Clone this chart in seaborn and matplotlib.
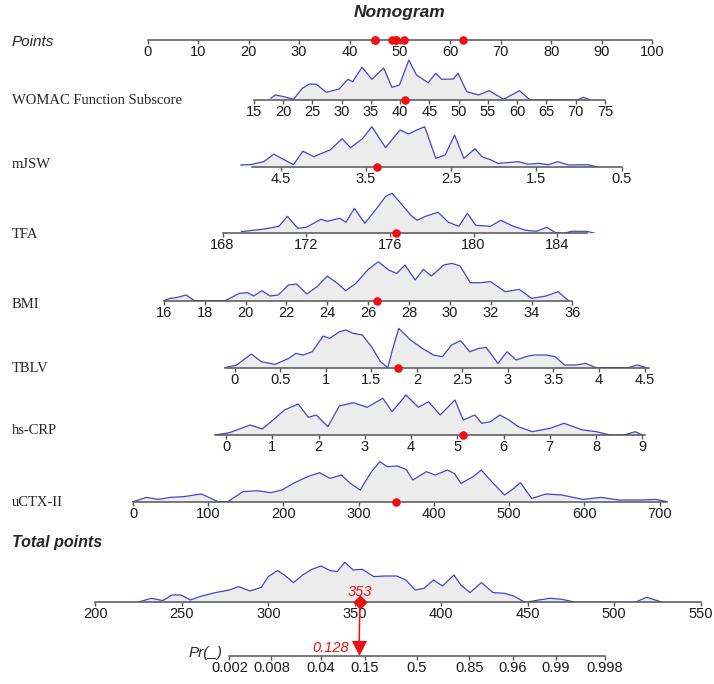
import matplotlib
matplotlib.use("Agg")
import matplotlib.pyplot as plt
from matplotlib.patches import ConnectionPatch
from matplotlib.ticker import NullLocator
import seaborn as sns

sns.set_style("white")
plt.rcParams['font.family'] = ['Liberation Sans', 'DejaVu Sans']

# ---------------- data ----------------
points_ticks = list(range(0, 101, 10))
# points of the selected patient for each predictor (red dots on the Points scale)
points_sel = [50.7, 45.0, 49.2, 45.0, 49.2, 62.5, 48.5]

womac_ticks = list(range(15, 76, 5))
womac_x = [17.9, 18.7, 20.2, 21.8, 23.3, 24.5, 25.7, 27.4, 29.6, 31.1, 31.9, 33.5, 35.2, 37.2,
           38.6, 39.9, 41.5, 42.8, 44.8, 46.1, 47.1, 49.1, 49.9, 51.4, 53.4, 55.2, 57.7, 60.4,
           62.2, 70.3, 71.3, 72.5]
womac_d = [1.7, 5, 3.3, 0.7, 11.7, 16, 15.7, 7.7, 11, 20.7, 18.3, 32.7, 20.7, 32,
           12.7, 15, 40, 25, 17.3, 26.7, 20.7, 21, 26.7, 8.3, 5, 9.3, 0.7, 9.3,
           0, 0, 2.7, 0]
womac_sel = 40.9

mjsw_ticks = [4.5, 3.5, 2.5, 1.5, 0.5]
mjsw_x = [4.97, 4.84, 4.70, 4.58, 4.46, 4.35, 4.24, 4.11, 4.03, 3.92, 3.78, 3.68, 3.54, 3.43,
          3.27, 3.10, 3.00, 2.92, 2.81, 2.68, 2.57, 2.46, 2.35, 2.22, 2.14, 2.03, 1.95, 1.71,
          1.60, 1.47, 1.36, 1.25, 1.12, 0.90, 0.80]
mjsw_d = [1.7, 2.3, 5, 12.5, 7, 2, 15.5, 10, 13, 16.7, 28, 19, 28, 40,
          19, 36.7, 32.7, 36, 40, 8.3, 11.7, 31.7, 8.3, 18, 10, 6.7, 3.3, 5,
          2.5, 3.3, 2, 5, 1.7, 2, 0]
mjsw_sel = 3.37

tfa_ticks = [168, 172, 176, 180, 184]
tfa_x = [168.9, 169.9, 170.7, 171.1, 171.6, 172.0, 172.7, 173.0, 173.6, 173.9, 174.3, 174.8,
         175.3, 175.8, 176.1, 176.4, 177.0, 177.3, 177.7, 178.3, 178.8, 179.3, 179.7, 180.1,
         180.8, 181.3, 181.9, 182.5, 183.0, 183.5, 183.9, 184.3, 184.7, 185.4, 185.8]
tfa_d = [1.7, 4, 7, 17, 5, 6, 14, 12, 15, 11, 25, 10,
         23, 37, 40, 33, 18, 13, 17, 21, 11, 7, 20, 8,
         7, 13, 7, 3, 2, 6, 0.7, 0, 2, 2, 0]
tfa_sel = 176.3

bmi_ticks = list(range(16, 37, 2))
bmi_x = [16.0, 16.3, 16.6, 17.1, 17.5, 19.0, 19.7, 20.1, 20.4, 20.8, 21.2, 21.6, 22.1, 22.5,
         23.0, 23.5, 24.0, 24.5, 24.9, 25.4, 26.0, 26.5, 27.0, 27.4, 27.8, 28.3, 28.7, 29.1,
         29.7, 30.1, 30.5, 31.0, 31.5, 32.0, 32.7, 33.4, 34.0, 34.7, 35.3, 35.8]
bmi_d = [0, 2.3, 3, 5.7, 0, 0, 7.3, 8, 4.7, 10, 4.7, 5.7, 15.7, 16.7,
         6.7, 14, 24.7, 17.3, 10, 17.3, 31.3, 39, 30.7, 27.3, 35.7, 20.7, 31.3, 24.7,
         35.7, 37.3, 34.7, 18, 18, 19, 9, 11.3, 2.3, 4.7, 9, 0]
bmi_sel = 26.45

tblv_ticks = [0, 0.5, 1, 1.5, 2, 2.5, 3, 3.5, 4, 4.5]
tblv_labels = ['0', '0.5', '1', '1.5', '2', '2.5', '3', '3.5', '4', '4.5']
tblv_x = [-0.11, 0.02, 0.18, 0.29, 0.44, 0.59, 0.67, 0.75, 0.85, 0.97, 1.04, 1.15, 1.22, 1.30,
          1.40, 1.50, 1.60, 1.68, 1.73, 1.80, 1.93, 2.06, 2.18, 2.28, 2.38, 2.48, 2.58, 2.68,
          2.76, 2.89, 2.99, 3.09, 3.22, 3.29, 3.42, 3.52, 3.62, 3.75, 3.85, 3.97, 4.32, 4.42,
          4.52]
tblv_d = [0, 2.7, 13.7, 6, 3.3, 9.3, 14.3, 12.7, 16, 31.7, 29.3, 36, 37.7, 34.3,
          32.7, 21, 6, 0, 17.7, 39.3, 27.7, 19.3, 12.7, 11, 22.7, 27, 16, 19.3,
          20.3, 4.3, 16, 7.7, 11.7, 12.7, 12.7, 11, 2.7, 2.7, 4.3, 0, 0, 2.7,
          0]
tblv_sel = 1.79

crp_ticks = list(range(0, 10))
crp_x = [-0.23, 0.07, 0.52, 0.78, 1.06, 1.26, 1.56, 1.78, 1.95, 2.20, 2.45, 2.75, 3.05, 3.39,
         3.59, 3.89, 4.16, 4.38, 4.63, 4.95, 5.13, 5.38, 5.53, 5.72, 5.92, 6.12, 6.32, 6.62,
         7.01, 7.31, 7.71, 8.01, 8.30, 8.60, 8.85, 9.00]
crp_d = [0, 2.3, 10, 6, 16.7, 25, 31, 17.7, 20, 8.3, 29, 32.3, 27.7, 36.7,
         23.3, 40, 27.7, 33.3, 20, 35, 15, 20, 11.7, 13.3, 20, 15, 8.3, 3.3,
         6.7, 11.7, 5, 3.3, 0, 0, 3.3, 0]
crp_sel = 5.13

ctx_ticks = list(range(0, 701, 100))
ctx_x = [0, 18, 34, 49, 67, 91, 113, 126, 146, 165, 183, 198, 213, 232, 248, 262, 277, 289,
         302, 317, 328, 338, 351, 363, 372, 390, 402, 418, 427, 436, 452, 463, 479, 494, 506,
         515, 530, 549, 570, 598, 622, 646, 677, 695, 710]
ctx_d = [0, 4.3, 2.3, 4.3, 5, 7.7, 0, 0, 10, 11, 9, 11.7, 18.3, 25, 29, 23.3, 26.7, 18.3,
         11.7, 30, 40, 35, 35.7, 32.3, 21.7, 30, 26.7, 31.7, 28.3, 18.3, 25, 31.7, 18.3, 6.7, 13.3,
         19, 3.3, 7.7, 6.7, 2.3, 4.3, 1.7, 1.7, 2.3, 0]
ctx_sel = 349

total_ticks = list(range(200, 551, 50))
total_x = [224.4, 232.4, 239.0, 244.3, 249.6, 254.9, 261.5, 269.5, 277.5, 282.8, 289.4, 296.0,
           300.0, 305.3, 309.3, 314.6, 319.9, 325.2, 330.5, 335.8, 339.8, 344.3, 349.1, 354.4,
           361.0, 367.6, 374.3, 379.6, 384.9, 390.2, 395.5, 400.8, 407.4, 411.4, 416.7, 423.3,
           430.0, 436.6, 441.9, 448.5, 456.5, 463.1, 469.8, 477.7, 512.2, 518.8, 528.1]
total_d = [0, 4, 1.7, 7.3, 7.3, 2.3, 6.3, 9.7, 12.3, 15.7, 11.3, 15,
           25.7, 31.7, 27.3, 19.7, 27.3, 33, 36.3, 31.7, 30.7, 40, 32.3, 33,
           25.7, 26.3, 26.3, 22.3, 12.3, 14, 22.3, 16.3, 27.3, 17.3, 9.7, 19.7,
           9.7, 9, 6.3, 0, 2.3, 4, 3, 0, 0, 5, 0]
total_sel = 353

pr_ticks = [0.002, 0.008, 0.04, 0.15, 0.5, 0.85, 0.96, 0.99, 0.998]
pr_labels = ['0.002', '0.008', '0.04', '0.15', '0.5', '0.85', '0.96', '0.99', '0.998']
pr_sel = 0.128

# ---------------- style / layout ----------------
W, H = 714, 684
ROW_H = 50
RED = '#ee1111'
BLUE = '#4444c8'
FILL = '#ececec'
AXIS_C = '#555555'

fig = plt.figure(figsize=(W / 100, H / 100), dpi=100)


def style_axis(ax, ticks, labels=None):
    ax.patch.set_visible(False)
    for side in ['top', 'left', 'right']:
        ax.spines[side].set_visible(False)
    sp = ax.spines['bottom']
    sp.set_color(AXIS_C)
    sp.set_linewidth(1.1)
    sp.set_zorder(3)
    ax.set_yticks([])
    ax.set_xticks(ticks)
    ax.set_xticklabels(labels if labels is not None else [str(t) for t in ticks])
    ax.xaxis.set_minor_locator(NullLocator())
    ax.tick_params(axis='x', bottom=True, labelbottom=True, direction='out', length=2.6,
                   width=1, color=AXIS_C, pad=1, labelsize=10.5, labelcolor='#1a1a1a')


def row_axes(v_a, v_b, px_a, px_b, y_px):
    # full width axes, x scale chosen so v_a/v_b fall on pixel columns px_a/px_b
    s = (v_b - v_a) / (px_b - px_a)
    ax = fig.add_axes([0, (H - y_px) / H, 1, ROW_H / H])
    ax.set_xlim(v_a - px_a * s, v_a + (W - px_a) * s)
    ax.set_ylim(0, ROW_H)
    return ax


def density(ax, x, d):
    ax.fill_between(x, 0, d, color=FILL, lw=0, zorder=1)
    sns.lineplot(x=x, y=d, ax=ax, color=BLUE, lw=0.9, sort=False, estimator=None, zorder=2)
    ax.set_xlabel('')
    ax.set_ylabel('')


def red_dot(ax, v):
    sns.scatterplot(x=[v], y=[0], ax=ax, color=RED, s=38, linewidth=0, zorder=5, clip_on=False)


# title and Points scale
fig.text(400 / W, (H - 12.5) / H, 'Nomogram', ha='center', va='center',
         fontsize=12.5, fontweight='bold', fontstyle='italic')
fig.text(12 / W, (H - 42) / H, 'Points', ha='left', va='center', fontsize=11, fontstyle='italic')
ax_pts = row_axes(0, 100, 147.7, 652.3, 39.5)
style_axis(ax_pts, points_ticks)
ax_pts.spines['bottom'].set_bounds(0, 100)
sns.scatterplot(x=points_sel, y=[0] * len(points_sel), ax=ax_pts, color=RED, s=38,
                linewidth=0, zorder=5, clip_on=False)

# predictor rows: name, ticks, labels, x, density, selected, line range, layout
rows = [
    ('WOMAC Function Subscore', womac_ticks, None, womac_x, womac_d, womac_sel, (15, 75),
     (15, 75, 253.7, 605.0, 100.0, 101)),
    ('mJSW', mjsw_ticks, None, mjsw_x, mjsw_d, mjsw_sel, (4.84, 0.5),
     (4.5, 0.5, 280.7, 621.6, 166.7, 164)),
    ('TFA', tfa_ticks, None, tfa_x, tfa_d, tfa_sel, (168, 185.4),
     (168, 184, 222.5, 557.3, 233.3, 235)),
    ('BMI', bmi_ticks, None, bmi_x, bmi_d, bmi_sel, (16, 36),
     (16, 36, 163.8, 572.5, 300.7, 304)),
    ('TBLV', tblv_ticks, tblv_labels, tblv_x, tblv_d, tblv_sel, (-0.11, 4.55),
     (0, 4.5, 234.9, 644.5, 367.7, 368)),
    ('hs-CRP', crp_ticks, None, crp_x, crp_d, crp_sel, (-0.23, 9.05),
     (0, 9, 226.1, 642.2, 435.0, 430)),
    ('uCTX-II', ctx_ticks, None, ctx_x, ctx_d, ctx_sel, (0, 710),
     (0, 700, 133.0, 659.6, 501.7, 503)),
]

for name, ticks, labels, x, d, sel, (lo, hi), (va, vb, pa, pb, y_ax, y_lab) in rows:
    ax = row_axes(va, vb, pa, pb, y_ax)
    density(ax, x, d)
    style_axis(ax, ticks, labels)
    ax.spines['bottom'].set_bounds(lo, hi)
    red_dot(ax, sel)
    fig.text(12 / W, (H - y_lab) / H, name, ha='left', va='center', fontsize=10.5,
             family=['Liberation Serif', 'DejaVu Serif'])

# total points
fig.text(12 / W, (H - 542) / H, 'Total points', ha='left', va='center', fontsize=11.5,
         fontweight='bold', fontstyle='italic')
ax_tot = row_axes(200, 550, 95.4, 700.5, 602.3)
density(ax_tot, total_x, total_d)
style_axis(ax_tot, total_ticks)
ax_tot.spines['bottom'].set_bounds(200, 550)
sns.scatterplot(x=[total_sel], y=[0], ax=ax_tot, color=RED, marker='D', s=55, linewidth=0,
                zorder=6, clip_on=False)
ax_tot.annotate(str(total_sel), (total_sel, 0), xytext=(0, 7.5), textcoords='offset points',
                ha='center', va='center', color=RED, fontsize=10.5, fontstyle='italic')

# probability scale (logit)
ax_pr = fig.add_axes([229.4 / W, (H - 656) / H, (604.6 - 229.4) / W, ROW_H / H])
ax_pr.set_xscale('logit')
ax_pr.set_xlim(0.002, 0.998)
ax_pr.set_ylim(0, ROW_H)
style_axis(ax_pr, pr_ticks, pr_labels)
TRI_Y = 8
sns.scatterplot(x=[pr_sel], y=[TRI_Y], ax=ax_pr, color=RED, marker='v', s=120, linewidth=0,
                zorder=6, clip_on=False)
ax_pr.annotate(str(pr_sel), (pr_sel, TRI_Y), xytext=(-7.5, 0), textcoords='offset points',
               ha='right', va='center', color=RED, fontsize=10.5, fontstyle='italic')
fig.text(223 / W, (H - 653) / H, 'Pr(_)', ha='right', va='center', fontsize=11,
         fontstyle='italic')

con = ConnectionPatch(xyA=(total_sel, 0), coordsA=ax_tot.transData,
                      xyB=(pr_sel, TRI_Y), coordsB=ax_pr.transData,
                      color=RED, lw=1.1, zorder=5)
fig.add_artist(con)

fig.savefig('out.png', dpi=100)
